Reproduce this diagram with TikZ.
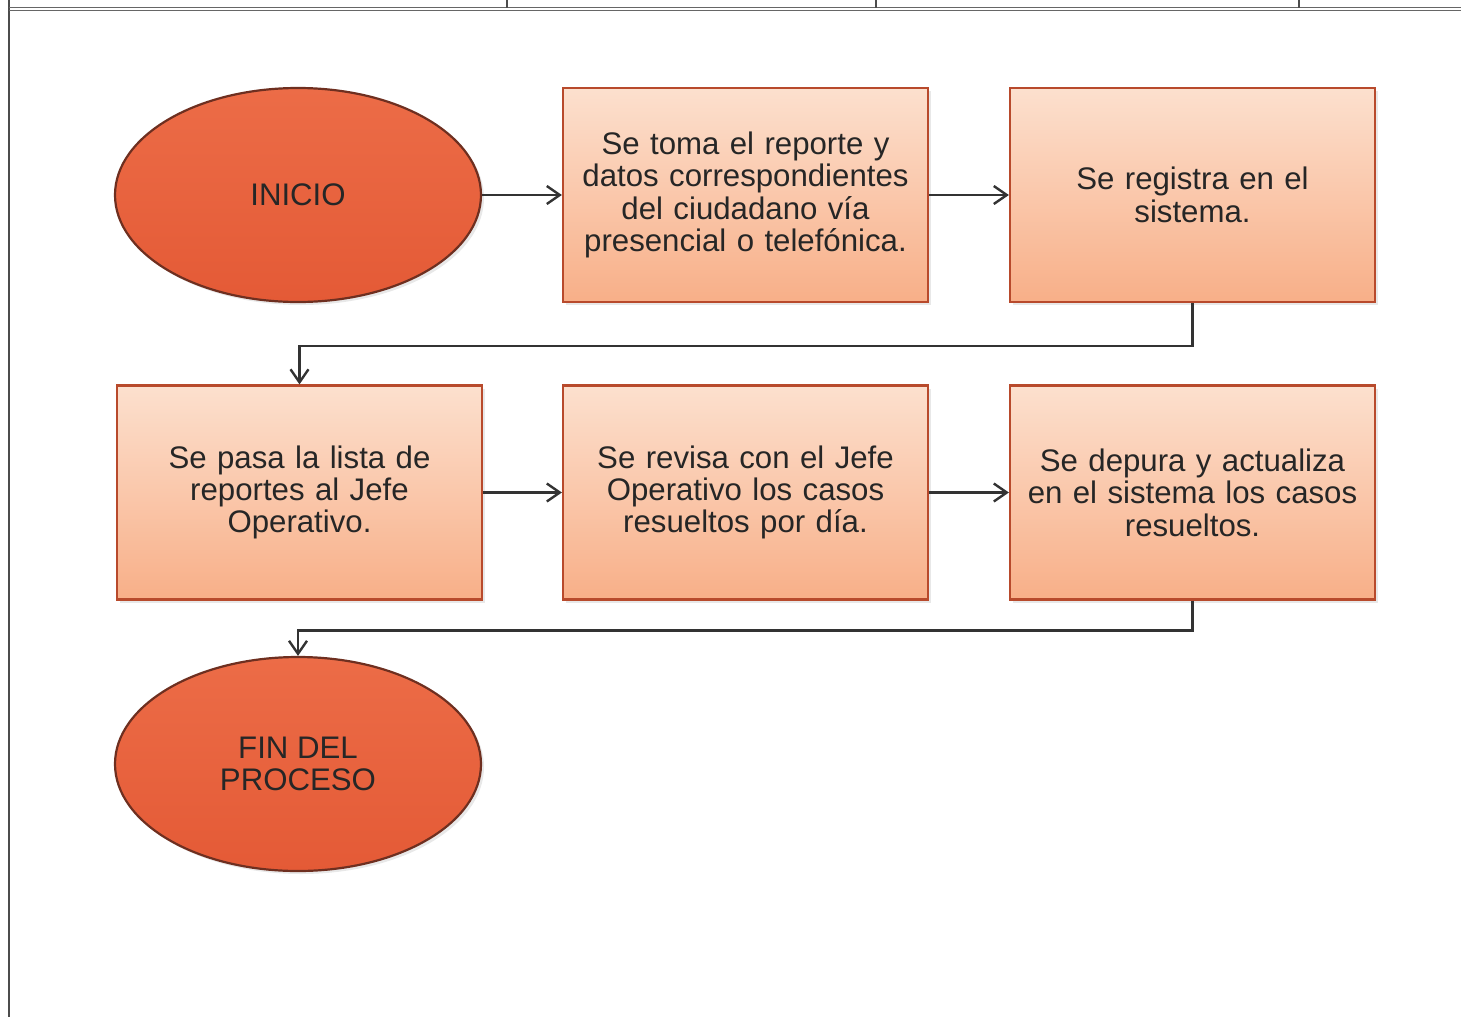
\documentclass[tikz,border=0pt]{standalone}
\usepackage{fontspec}
\setmainfont{Liberation Sans}
\usetikzlibrary{shapes.geometric,arrows.meta,shadows}

\definecolor{ovaloArriba}{HTML}{EC6C47}
\definecolor{ovaloAbajo}{HTML}{E45A36}
\definecolor{ovaloBorde}{HTML}{6E2F20}
\definecolor{cajaArriba}{HTML}{FCE0CE}
\definecolor{cajaAbajo}{HTML}{F8AF88}
\definecolor{cajaBorde}{HTML}{B84A2C}
\definecolor{flechaGris}{HTML}{333333}

\tikzset{
  texto/.style={font=\fontsize{15.6}{16.2}\selectfont, text=black!85, align=center},
  ovalo/.style={ellipse, texto, draw=ovaloBorde, line width=1.1pt,
    top color=ovaloArriba, bottom color=ovaloAbajo,
    minimum width=183pt, minimum height=107pt, inner sep=0pt,
    drop shadow={opacity=0.18, shadow xshift=1.5pt, shadow yshift=-1.5pt}},
  caja/.style={rectangle, texto, draw=cajaBorde, line width=1.1pt,
    top color=cajaArriba, bottom color=cajaAbajo,
    minimum width=182.5pt, minimum height=107pt, text width=178pt, inner sep=0pt,
    drop shadow={opacity=0.18, shadow xshift=1.5pt, shadow yshift=-1.5pt}},
  flecha/.style={-{Straight Barb[length=6.5pt,width=9pt]}, line width=1.2pt, draw=flechaGris}
}

\begin{document}
\begin{tikzpicture}[x=0.5pt,y=-0.5pt]
    \useasboundingbox (0,0) rectangle (1461,1017);
    % marco de la tabla
    \draw[black!70, line width=0.6pt] (9,0) -- (9,1017);
    \draw[black!60, line width=0.5pt] (9,7.5) -- (1461,7.5);
    \draw[black!60, line width=0.5pt] (9,10.5) -- (1461,10.5);
    \foreach \x in {507,876,1299}
        \draw[black!70, line width=0.6pt] (\x,0) -- (\x,7.5);

    % primera fila
    \node[ovalo] (inicio) at (298,195) {INICIO};
    \node[caja] (toma) at (745.5,195) {Se toma el reporte y\\ datos correspondientes\\ del ciudadano vía\\ presencial o telefónica.};
    \node[caja] (registra) at (1192.5,195) {Se registra en el\\ sistema.};

    % segunda fila
    \node[caja] (pasa) at (299.5,492.5) {Se pasa la lista de\\ reportes al Jefe\\ Operativo.};
    \node[caja] (revisa) at (745.5,492.5) {Se revisa con el Jefe\\ Operativo los casos\\ resueltos por día.};
    \node[caja] (depura) at (1192.5,492.5) {Se depura y actualiza\\ en el sistema los casos\\ resueltos.};

    % fin
    \node[ovalo] (fin) at (298,764) {FIN DEL\\ PROCESO};

    \draw[flecha] (inicio) -- (toma);
    \draw[flecha] (toma) -- (registra);
    \draw[flecha] (registra.south) -- ++(0,43) -| (pasa.north);
    \draw[flecha] (pasa) -- (revisa);
    \draw[flecha] (revisa) -- (depura);
    \draw[flecha] (depura.south) -- ++(0,30) -| (fin.north);
\end{tikzpicture}
\end{document}
